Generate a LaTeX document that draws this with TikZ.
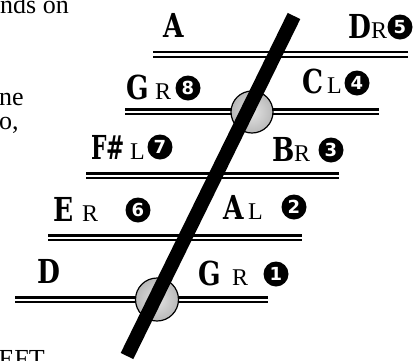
\documentclass[tikz,border=0pt]{standalone}
\usepackage{fontspec}
\setmainfont{Liberation Serif}
\newfontfamily\notefont{DejaVu Serif}[FakeStretch=0.8]
\newfontfamily\notefontc{DejaVu Serif}[FakeStretch=0.66]
\newfontfamily\numfont{DejaVu Sans}
\begin{document}
\begin{tikzpicture}[x=1pt,y=-1pt,
  note/.style={font=\notefont\bfseries\fontsize{33}{33}\selectfont, inner sep=0, anchor=base west},
  notec/.style={font=\notefontc\bfseries\fontsize{33}{33}\selectfont, inner sep=0, anchor=base west},
  side/.style={font=\fontsize{24}{24}\selectfont, inner sep=0, anchor=base west},
  num/.style={circle, fill=black, text=white, minimum size=25pt, inner sep=0,
    font=\numfont\bfseries\fontsize{18}{18}\selectfont},
  body/.style={font=\fontsize{26}{26}\selectfont, inner sep=0, anchor=base west},
  railtop/.style={line width=2.8pt},
  railbot/.style={line width=2pt},
  fret/.style={draw=black, line width=1.2pt, inner color=gray!22, outer color=gray!55},
  stick/.style={line width=14pt, line cap=butt}]
\useasboundingbox (0,0) rectangle (413,360);
\clip (0,0) rectangle (413,360);

% body text fragments
\node[body] (t1) at (0,13) {nds on};
\node[body] (t2) at (-1,105) {ne};
\node[body] (t3) at (-1,129) {o,};
\node[body, anchor=base east] (t4) at (45,367) {LEFT};

% rails
\foreach \n/\xa/\xb/\yy in {1/153/408/52, 2/125/379/109.5, 3/86/339/173.5, 4/48/302/235.5, 5/15/268/297.5} {
  \coordinate (l\n a) at (\xa,\yy);
  \coordinate (l\n b) at (\xb,\yy);
  \draw[railtop] (l\n a) -- (l\n b);
  \draw[railbot] ([yshift=-4.8pt]l\n a) -- ([yshift=-4.8pt]l\n b);
}

% frets (circles)
\path[fret] (252,112) circle (21);
\path[fret] (157,299.5) circle (21.5);
\node[inner sep=0] (c1) at (252,112) {};
\node[inner sep=0] (c2) at (157,299.5) {};

% stick
\coordinate (s1) at (294,16);
\coordinate (s2) at (127,356);
\draw[stick] (s1) -- (s2);

% labels
\node[note] (nA1) at (163,37) {A};
\node[note] (nD1) at (348,38) {D};
\node[side] (sD1) at (371,38) {R};
\node[num] (k5) at (400,27) {5};

\node[note] (nG1) at (126,99) {G};
\node[side] (sG1) at (155,99) {R};
\node[num] (k8) at (188,88) {8};

\node[note] (nC) at (302,93) {C};
\node[side] (sC) at (327,93) {L};
\node[num] (k4) at (357,83) {4};

\node[notec] (nF) at (91,159) {F\#};
\node[side] (sF) at (130,159) {L};
\node[num] (k7) at (160,147) {7};

\node[note] (nB) at (272,161) {B};
\node[side] (sB) at (294,161) {R};
\node[num] (k3) at (331,150) {3};

\node[note] (nE) at (53,221) {E};
\node[side] (sE) at (82,221) {R};
\node[num] (k6) at (138,210) {6};

\node[note] (nA2) at (223,219) {A};
\node[side] (sA2) at (248,219) {L};
\node[num] (k2) at (294,207) {2};

\node[note] (nD2) at (37,283) {D};
\node[note] (nG2) at (198,285) {G};
\node[side] (sG2) at (232,285) {R};
\node[num] (k1) at (276,274) {1};
\end{tikzpicture}
\end{document}
